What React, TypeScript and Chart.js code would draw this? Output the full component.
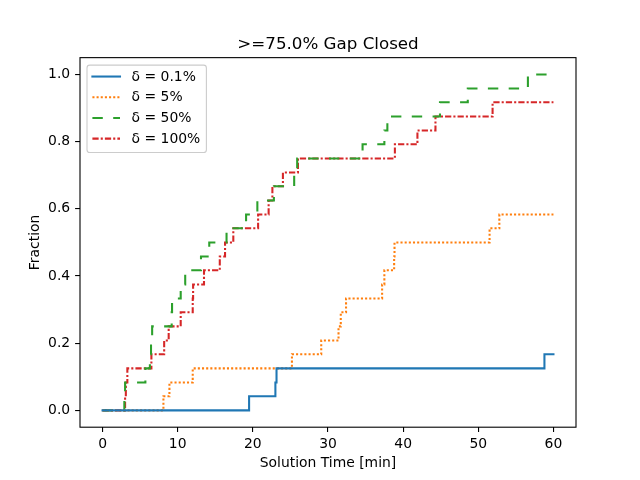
import React, { useEffect, useRef } from "react";
import Chart from "chart.js/auto";

// solution time [min] at which each fraction is reached
const seriesLabels = ["δ = 0.1%", "δ = 5%", "δ = 50%", "δ = 100%"];
const seriesColors = ["#1f77b4", "#ff7f0e", "#2ca02c", "#d62728"];

const timesD01 = [0, 19.5, 23.0, 23.15, 58.8, 60];
const fracD01 = [0, 0.042, 0.083, 0.125, 0.167, 0.167];

const timesD5 = [0, 8.1, 8.9, 12.0, 25.2, 29.1, 31.4, 31.7, 32.4, 37.2, 37.5, 38.8, 38.85, 51.5, 52.8, 60];
const fracD5 = [0, 0.042, 0.083, 0.125, 0.167, 0.208, 0.25, 0.292, 0.333, 0.375, 0.417, 0.458, 0.5, 0.542, 0.583, 0.583];

const timesD50 = [0, 2.9, 3.0, 5.7, 6.3, 6.45, 6.6, 9.2, 9.25, 10.4, 11.0, 13.1, 14.2, 16.5, 19.1, 20.6, 22.8, 25.5, 25.9, 34.6, 37.5, 37.9, 44.9, 48.6, 56.6, 60];
const fracD50 = [0, 0.042, 0.083, 0.125, 0.167, 0.208, 0.25, 0.292, 0.333, 0.375, 0.417, 0.458, 0.5, 0.542, 0.583, 0.625, 0.667, 0.708, 0.75, 0.792, 0.833, 0.875, 0.917, 0.958, 1.0, 1.0];

const timesD100 = [0, 3.0, 3.1, 3.3, 6.5, 8.2, 8.8, 10.4, 12.0, 12.05, 13.5, 15.6, 16.3, 17.4, 20.7, 22.1, 22.6, 24.0, 26.0, 38.9, 41.9, 44.3, 51.9, 60];
const fracD100 = [0, 0.042, 0.083, 0.125, 0.167, 0.208, 0.25, 0.292, 0.333, 0.375, 0.417, 0.458, 0.5, 0.542, 0.583, 0.625, 0.667, 0.708, 0.75, 0.792, 0.833, 0.875, 0.917, 0.917];

const xTicks = [0, 10, 20, 30, 40, 50, 60];
const yTicks = [0, 0.2, 0.4, 0.6, 0.8, 1.0];

const FONT = "'DejaVu Sans', sans-serif";
const FS = 13.9;
const LW = 2.08;

const toPoints = (xs: number[], ys: number[]) => xs.map((x, i) => ({ x, y: ys[i] }));

// axes box like matplotlib spines
const framePlugin = {
  id: "frame",
  afterDatasetsDraw(chart: any) {
    const { ctx, chartArea: a } = chart;
    ctx.save();
    ctx.setLineDash([]);
    ctx.strokeStyle = "#000";
    ctx.lineWidth = 1.1;
    ctx.strokeRect(a.left, a.top, a.right - a.left, a.bottom - a.top);
    ctx.restore();
  },
};

// legend inside the axes, upper left
const legendPlugin = {
  id: "innerLegend",
  afterDraw(chart: any) {
    const { ctx, chartArea: a } = chart;
    const x0 = a.left + 7;
    const y0 = a.top + 7.5;
    ctx.save();
    ctx.beginPath();
    ctx.roundRect(x0, y0, 119.4, 87.4, 2.8);
    ctx.fillStyle = "rgba(255,255,255,0.8)";
    ctx.fill();
    ctx.strokeStyle = "#cccccc";
    ctx.lineWidth = 1.1;
    ctx.stroke();
    chart.data.datasets.forEach((ds: any, i: number) => {
      const cy = y0 + 11.4 + i * 20.7;
      ctx.beginPath();
      ctx.setLineDash(ds.borderDash || []);
      ctx.lineCap = ds.borderCapStyle || "butt";
      ctx.strokeStyle = ds.borderColor;
      ctx.lineWidth = ds.borderWidth;
      ctx.moveTo(x0 + 5.4, cy);
      ctx.lineTo(x0 + 33, cy);
      ctx.stroke();
      ctx.setLineDash([]);
      ctx.fillStyle = "#000";
      ctx.font = `${FS}px ${FONT}`;
      ctx.textBaseline = "middle";
      ctx.textAlign = "left";
      ctx.fillText(ds.label, x0 + 44.6, cy + 0.5);
    });
    ctx.restore();
  },
};

export default function App() {
  const canvasRef = useRef<HTMLCanvasElement | null>(null);

  useEffect(() => {
    const canvas = canvasRef.current;
    if (!canvas) return;

    const series = [
      { t: timesD01, f: fracD01, dash: [] as number[], cap: "square" },
      { t: timesD5, f: fracD5, dash: [LW, LW], cap: "butt" },
      { t: timesD50, f: fracD50, dash: [5 * LW, 5 * LW], cap: "butt" },
      { t: timesD100, f: fracD100, dash: [3 * LW, LW, LW, LW], cap: "butt" },
    ];

    const chart = new Chart(canvas, {
      type: "line",
      data: {
        datasets: series.map((s, i) => ({
          label: seriesLabels[i],
          data: toPoints(s.t, s.f),
          borderColor: seriesColors[i],
          backgroundColor: seriesColors[i],
          borderWidth: LW,
          borderDash: s.dash,
          borderCapStyle: s.cap as CanvasLineCap,
          stepped: "before" as const,
          pointRadius: 0,
          fill: false,
        })),
      },
      options: {
        responsive: false,
        animation: false,
        events: [],
        layout: { padding: { left: 0, right: 64, top: 0, bottom: 0 } },
        plugins: {
          legend: { display: false },
          tooltip: { enabled: false },
          title: {
            display: true,
            text: ">=75.0% Gap Closed",
            fullSize: false,
            color: "#000",
            font: { family: FONT, size: 16.7, weight: "normal", lineHeight: 1.2 },
            padding: { top: 35, bottom: 2.6 },
          },
        },
        scales: {
          x: {
            type: "linear",
            min: -3,
            max: 63,
            afterFit: (scale: any) => {
              scale.height = 52.8;
            },
            afterBuildTicks: (scale: any) => {
              scale.ticks = xTicks.map((v) => ({ value: v }));
            },
            grid: { drawOnChartArea: false, drawTicks: true, tickLength: 4.9, color: "#000", lineWidth: 1.1 },
            border: { display: false },
            ticks: {
              color: "#000",
              padding: 3.8,
              maxRotation: 0,
              font: { family: FONT, size: FS },
              callback: (v: any) => String(v),
            },
            title: {
              display: true,
              text: "Solution Time [min]",
              color: "#000",
              font: { family: FONT, size: FS, lineHeight: 1.2 },
              padding: { top: 0, bottom: 8.7 },
            },
          },
          y: {
            type: "linear",
            min: -0.05,
            max: 1.05,
            afterFit: (scale: any) => {
              scale.width = 80;
            },
            afterBuildTicks: (scale: any) => {
              scale.ticks = yTicks.map((v) => ({ value: v }));
            },
            grid: { drawOnChartArea: false, drawTicks: true, tickLength: 4.9, color: "#000", lineWidth: 1.1 },
            border: { display: false },
            ticks: {
              color: "#000",
              padding: 4.9,
              font: { family: FONT, size: FS },
              callback: (v: any) => Number(v).toFixed(1),
            },
            title: {
              display: true,
              text: "Fraction",
              color: "#000",
              font: { family: FONT, size: FS, lineHeight: 1.2 },
              padding: { top: 26.7, bottom: 0 },
            },
          },
        },
      },
      plugins: [framePlugin, legendPlugin],
    });

    return () => {
      chart.destroy();
    };
  }, []);

  return (
    <div style={{ position: "absolute", left: 0, top: 0, width: 640, height: 480, background: "#fff" }}>
      <canvas ref={canvasRef} width={640} height={480}></canvas>
    </div>
  );
}
